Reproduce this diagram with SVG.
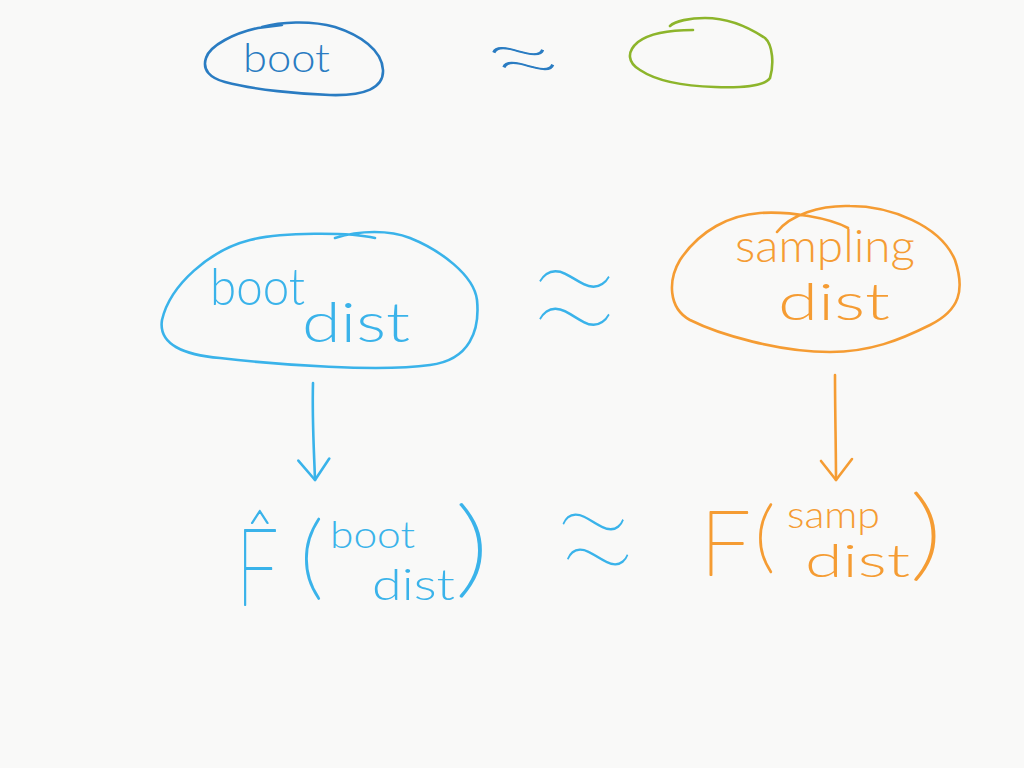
<svg xmlns="http://www.w3.org/2000/svg" width="1024" height="768" viewBox="0 0 1024 768">
<style>
.ink{fill:none;stroke-width:2.6;stroke-linecap:round;stroke-linejoin:round}
.t{font-family:Lato,"Liberation Sans",sans-serif;font-weight:300}
.big{font-family:Lato,"Liberation Sans",sans-serif;font-weight:100;stroke-width:1.8;stroke-linejoin:round}
.ap{font-family:Lato,"Liberation Sans",sans-serif;font-weight:100;font-size:80px}
.db{stroke:#2a7cc2}.dbf{fill:#2a7cc2}
.lb{stroke:#3ab3ea}.lbf{fill:#3ab3ea}
.or{stroke:#f59c33}.orf{fill:#f59c33}
.gr{stroke:#8db52b}
</style>
<defs>
<marker id="ah-b" markerUnits="userSpaceOnUse" viewBox="-2 -18 26 36" markerWidth="26" markerHeight="36" refX="21" refY="0" orient="auto">
<path d="M0,-15 L21,0 L1,16" fill="none" stroke="#3ab3ea" stroke-width="2.6" stroke-linecap="round" stroke-linejoin="round"/>
</marker>
<marker id="ah-o" markerUnits="userSpaceOnUse" viewBox="-2 -18 26 36" markerWidth="26" markerHeight="36" refX="21" refY="0" orient="auto">
<path d="M0,-16 L21,0 L2,15" fill="none" stroke="#f59c33" stroke-width="2.6" stroke-linecap="round" stroke-linejoin="round"/>
</marker>
</defs>
<rect width="1024" height="768" fill="#f9f9f8"/>

<g id="boot-top">
<path class="ink db" d="M282,25 L258,28 C235,33 210,45 206,58 C202,70 210,78 225,82 C255,90 300,94 330,95 C365,96 384,88 383,70 C382,50 360,35 335,27 C310,20 280,22 262,27"/>
<text class="t dbf" x="243" y="72" font-size="40" textLength="87" lengthAdjust="spacingAndGlyphs">boot</text>
</g>

<g id="approx-top">
<text class="ap dbf db" stroke-width="0.9" x="0" y="0" transform="translate(541,25) rotate(180) scale(1.75,1.25) skewX(26)">≈</text>
</g>

<g id="unknown-top">
<path class="ink gr" d="M693,30 C670,30 650,33 638,42 C626,52 628,63 640,70 C655,80 680,86 715,87 C745,88 765,86 770,78 C774,65 773,45 765,38 C750,28 730,18 705,18 C690,18 675,21 670,26"/>
</g>

<g id="boot-dist">
<path class="ink lb" d="M375,238 C350,232 280,232 250,240 C210,250 170,285 162,320 C158,345 185,355 220,358 C280,365 380,372 430,365 C470,360 480,330 477,300 C474,275 440,250 410,238 C390,230 360,230 335,238"/>
<text class="t lbf" x="210" y="305" font-size="52" textLength="95" lengthAdjust="spacingAndGlyphs">boot</text>
<text class="t lbf" x="302" y="342" font-size="56" textLength="108" lengthAdjust="spacingAndGlyphs">dist</text>
</g>

<g id="approx-mid">
<text class="ap lbf" x="0" y="0" transform="translate(518,384) scale(2.43,3.18)">≈</text>
</g>

<g id="sampling-dist">
<path class="ink or" d="M777,232 C790,215 820,205 850,206 C890,206 940,225 955,260 C965,290 960,310 930,325 C900,340 870,352 830,352 C780,352 720,335 690,320 C668,308 668,280 680,260 C700,230 730,215 760,213 C790,211 830,218 848,228"/>
<text class="t orf" x="735" y="262" font-size="46" textLength="180" lengthAdjust="spacingAndGlyphs">sampling</text>
<text class="t orf" x="778" y="320" font-size="52" textLength="112" lengthAdjust="spacingAndGlyphs">dist</text>
</g>

<g id="connectors">
<path class="ink lb" d="M313,383 C312,420 314,450 315,480" marker-end="url(#ah-b)"/>
<path class="ink or" d="M835,375 C835,410 836,450 836,480" marker-end="url(#ah-o)"/>
</g>

<g id="F-hat-boot">
<text class="big lbf lb" x="0" y="0" font-size="107" transform="translate(236,605) scale(0.7,1)">F̂</text>
<text class="big lbf lb" x="0" y="0" font-size="92" transform="translate(300,588)">(</text>
<text class="t lbf" x="330" y="548" font-size="38" textLength="85" lengthAdjust="spacingAndGlyphs">boot</text>
<text class="t lbf" x="372" y="600" font-size="44" textLength="83" lengthAdjust="spacingAndGlyphs">dist</text>
<text class="big lbf lb" x="0" y="0" font-size="106" transform="translate(455,584) scale(1.3,1)">)</text>
</g>

<g id="approx-bot">
<text class="ap lbf" x="0" y="0" transform="translate(556,619) scale(2.13,2.96) skewX(10)">≈</text>
</g>

<g id="F-samp">
<text class="big orf or" x="700" y="575" font-size="90">F</text>
<text class="big orf or" x="0" y="0" font-size="78" transform="translate(755,563)">(</text>
<text class="t orf" x="787" y="528" font-size="38" textLength="93" lengthAdjust="spacingAndGlyphs">samp</text>
<text class="t orf" x="805" y="577" font-size="46" textLength="105" lengthAdjust="spacingAndGlyphs">dist</text>
<text class="big orf or" x="0" y="0" font-size="100" transform="translate(910,568) scale(1.3,1)">)</text>
</g>
</svg>
